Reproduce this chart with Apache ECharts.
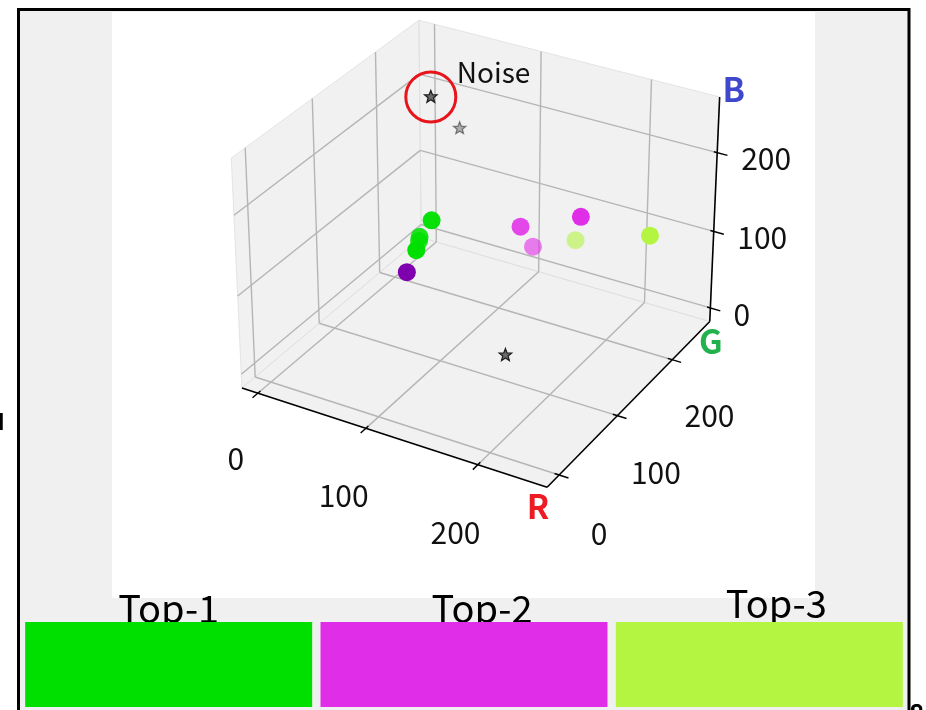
<!DOCTYPE html>
<html>
<head>
<meta charset="UTF-8">
<title>RGB 3D scatter</title>
<script src="https://cdn.jsdelivr.net/npm/echarts@6/dist/echarts.min.js"></script>
<style>
html, body { margin: 0; padding: 0; background: #fff; }
#main { width: 926px; height: 710px; }
</style>
</head>
<body>
<div id="main"></div>
<script>
// ---- data ----
var rgbTicks = [0, 100, 200];
var rRange = [-15, 260];
var gRange = [-20, 272];
var bRange = [-18, 269];
var axisNames = ['R', 'G', 'B'];

var topLabels = ['Top-1', 'Top-2', 'Top-3'];
var topColors = [[0, 224, 0], [224, 46, 232], [180, 245, 66]];

// points are [R, G, B]
var top1Points = [[0, 242, 3], [4, 230, 0], [0, 243, 8], [8, 250, 29]];
var top2Points = [[204, 40, 234], [244, 61, 248], [209, 51, 205]];
var top3Points = [[211, 255, 86], [143, 255, 53]];
var otherPoints = [[127, 1, 174]];
var noisePoints = [[10, 247, 194], [33, 255, 157], [155, 109, 7]];
var noiseText = 'Noise';

// ---- view (matplotlib-like 3d projection) ----
var ELEV = 30, AZIM = -60, DIST = 10;
var BOX = [4 / 3.5, 4 / 3.5, 3 / 3.5];
var VIEW = { cx: 480, cy: 243, k: 3060 };
var PLOT = { left: 112, top: 12, width: 703, height: 586 };
var FONT = "'Noto Sans CJK SC', 'Noto Sans', sans-serif";

function cross(a, b) {
    return [a[1] * b[2] - a[2] * b[1], a[2] * b[0] - a[0] * b[2], a[0] * b[1] - a[1] * b[0]];
}
function dot(a, b) { return a[0] * b[0] + a[1] * b[1] + a[2] * b[2]; }

var el = ELEV * Math.PI / 180, az = AZIM * Math.PI / 180;
var nVec = [Math.cos(az) * Math.cos(el), Math.sin(az) * Math.cos(el), Math.sin(el)];
var uVec = cross([0, 0, 1], nVec);
var uLen = Math.sqrt(dot(uVec, uVec));
uVec = [uVec[0] / uLen, uVec[1] / uLen, uVec[2] / uLen];
var vVec = cross(nVec, uVec);

// returns [x, y, depth] in projection units (depth: bigger = nearer)
function project(p) {
    var q = [
        (p[0] - rRange[0]) / (rRange[1] - rRange[0]) * BOX[0] - BOX[0] / 2,
        (p[1] - gRange[0]) / (gRange[1] - gRange[0]) * BOX[1] - BOX[1] / 2,
        (p[2] - bRange[0]) / (bRange[1] - bRange[0]) * BOX[2] - BOX[2] / 2
    ];
    var d = dot(nVec, q);
    var w = DIST - d;
    return [dot(uVec, q) / w, dot(vVec, q) / w, d];
}

var R0 = rRange[0], R1 = rRange[1], G0 = gRange[0], G1 = gRange[1], B0 = bRange[0], B1 = bRange[1];

// panes
var panes = [
    [[R0, G0, B0], [R1, G0, B0], [R1, G1, B0], [R0, G1, B0]],
    [[R0, G0, B0], [R0, G1, B0], [R0, G1, B1], [R0, G0, B1]],
    [[R0, G1, B0], [R1, G1, B0], [R1, G1, B1], [R0, G1, B1]]
];

// grid lines, ticks, axis lines
var segs = [];
function seg(p, q, kind) { segs.push({ p: p, q: q, kind: kind }); }
rgbTicks.forEach(function (t) {
    seg([t, G0, B0], [t, G1, B0], 'grid');
    seg([R0, t, B0], [R1, t, B0], 'grid');
    seg([R0, t, B0], [R0, t, B1], 'grid');
    seg([R0, G0, t], [R0, G1, t], 'grid');
    seg([t, G1, B0], [t, G1, B1], 'grid');
    seg([R0, G1, t], [R1, G1, t], 'grid');
});
seg([R0, G0, B0], [R1, G0, B0], 'axis');
seg([R1, G0, B0], [R1, G1, B0], 'axis');
seg([R1, G1, B0], [R1, G1, B1], 'axis');
rgbTicks.forEach(function (t) {
    seg([t, G0 + 4, B0], [t, G0 - 8, B0], 'tick');
    seg([R1 - 4, t, B0], [R1 + 8, t, B0], 'tick');
    seg([R1 - 3, G1, t], [R1 + 9, G1, t], 'tick');
});
var segStyle = {
    grid: { color: '#b5b5b5', width: 1.4 },
    axis: { color: '#000', width: 1.6 },
    tick: { color: '#000', width: 1.4 }
};

// tick labels
var tickLabels = [];
rgbTicks.forEach(function (t) {
    tickLabels.push({ p: [t, G0 - 36, B0 - 59], text: String(t), align: 'center' });
    tickLabels.push({ p: [R1 + 35, t, B0 - 58], text: String(t), align: 'center' });
    tickLabels.push({ p: [R1 + 21, G1, t], text: String(t), align: 'left' });
});

var nameStyle = [
    { p: [R1, G0, B0], dx: -9, dy: 19, color: '#ed1c24' },
    { p: [R1, G1, B0], dx: 1, dy: 20, color: '#22b14c' },
    { p: [R1, G1, B1], dx: 14, dy: -7, color: '#3f48cc' }
];

function rgb(c) { return 'rgb(' + c[0] + ',' + c[1] + ',' + c[2] + ')'; }

function lineItem(params, api) {
    var a = api.coord([api.value(0), api.value(1)]);
    var b = api.coord([api.value(2), api.value(3)]);
    var s = segStyle[segs[params.dataIndex].kind];
    return {
        type: 'line',
        shape: { x1: a[0], y1: a[1], x2: b[0], y2: b[1] },
        style: { stroke: s.color, lineWidth: s.width }
    };
}

function paneItem(params, api) {
    var pts = [];
    for (var i = 0; i < 4; i++) pts.push(api.coord([api.value(2 * i), api.value(2 * i + 1)]));
    return {
        type: 'polygon',
        shape: { points: pts },
        style: { fill: 'rgba(215,215,215,0.35)', stroke: 'rgba(225,225,225,0.9)', lineWidth: 1 }
    };
}

function dotSeries(points, color) {
    var proj = points.map(project);
    var dmax = Math.max.apply(null, proj.map(function (p) { return p[2]; }));
    return {
        type: 'custom',
        coordinateSystem: 'cartesian2d',
        silent: true,
        z: 5,
        data: proj,
        renderItem: function (params, api) {
            var c = api.coord([api.value(0), api.value(1)]);
            var alpha = Math.max(0.6, 1 - 4 * (dmax - api.value(2)));
            return {
                type: 'circle',
                shape: { cx: c[0], cy: c[1], r: 9 },
                style: { fill: rgb(color), opacity: alpha }
            };
        }
    };
}

function starPoints(cx, cy, R, r) {
    var pts = [];
    for (var i = 0; i < 10; i++) {
        var ang = -Math.PI / 2 + i * Math.PI / 5;
        var rad = i % 2 ? r : R;
        pts.push([cx + rad * Math.cos(ang), cy + rad * Math.sin(ang)]);
    }
    return pts;
}
var noiseOpacity = [1, 0.5, 1];

var series = [
    {
        type: 'custom', coordinateSystem: 'cartesian2d', silent: true, z: 1,
        data: panes.map(function (pn) {
            var out = [];
            pn.forEach(function (p) { var q = project(p); out.push(q[0], q[1]); });
            return out;
        }),
        renderItem: paneItem
    },
    {
        type: 'custom', coordinateSystem: 'cartesian2d', silent: true, z: 2,
        data: segs.map(function (s) {
            var a = project(s.p), b = project(s.q);
            return [a[0], a[1], b[0], b[1]];
        }),
        renderItem: lineItem
    },
    {
        type: 'custom', coordinateSystem: 'cartesian2d', silent: true, z: 3,
        data: tickLabels.map(function (l) { return project(l.p).slice(0, 2); }),
        renderItem: function (params, api) {
            var l = tickLabels[params.dataIndex];
            var c = api.coord([api.value(0), api.value(1)]);
            return {
                type: 'text',
                style: {
                    x: c[0], y: c[1], text: l.text, fill: '#111',
                    font: '30px ' + FONT, align: l.align, verticalAlign: 'middle'
                }
            };
        }
    },
    {
        type: 'custom', coordinateSystem: 'cartesian2d', silent: true, z: 3,
        data: nameStyle.map(function (n) { return project(n.p).slice(0, 2); }),
        renderItem: function (params, api) {
            var n = nameStyle[params.dataIndex];
            var c = api.coord([api.value(0), api.value(1)]);
            return {
                type: 'text',
                style: {
                    x: c[0] + n.dx, y: c[1] + n.dy, text: axisNames[params.dataIndex], fill: n.color,
                    font: 'bold 33px ' + FONT, align: 'center', verticalAlign: 'middle'
                }
            };
        }
    },
    dotSeries(otherPoints, otherPoints[0]),
    dotSeries(top1Points, topColors[0]),
    dotSeries(top2Points, topColors[1]),
    dotSeries(top3Points, topColors[2]),
    {
        type: 'custom', coordinateSystem: 'cartesian2d', silent: true, z: 6,
        data: noisePoints.map(function (p) { return project(p).slice(0, 2); }),
        renderItem: function (params, api) {
            var c = api.coord([api.value(0), api.value(1)]);
            return {
                type: 'polygon',
                shape: { points: starPoints(c[0], c[1], 6.5, 2.8) },
                style: { fill: '#6a6a6a', stroke: '#1e1e1e', lineWidth: 1.3, opacity: noiseOpacity[params.dataIndex] }
            };
        }
    },
    {
        type: 'custom', coordinateSystem: 'cartesian2d', silent: true, z: 7,
        data: [project(noisePoints[0]).slice(0, 2)],
        renderItem: function (params, api) {
            var c = api.coord([api.value(0), api.value(1)]);
            return {
                type: 'group',
                children: [
                    { type: 'circle', shape: { cx: c[0], cy: c[1], r: 25 },
                      style: { fill: 'none', stroke: '#e8141c', lineWidth: 3 } },
                    { type: 'text', style: { x: c[0] + 26, y: c[1] - 25, text: noiseText, fill: '#111',
                      font: '28px ' + FONT, align: 'left', verticalAlign: 'middle' } }
                ]
            };
        }
    },
    {
        type: 'bar', xAxisIndex: 1, yAxisIndex: 1, silent: true,
        barWidth: 287,
        data: topColors.map(function (c) { return { value: 1, itemStyle: { color: rgb(c) } }; })
    }
];

var chart = echarts.init(document.getElementById('main'));
chart.setOption({
    backgroundColor: '#fff',
    animation: false,
    graphic: [
        { type: 'rect', z: -10, shape: { x: 19, y: 10, width: 889, height: 700 }, style: { fill: '#f0f0f0' } },
        { type: 'rect', z: 100, shape: { x: 18.5, y: 9.5, width: 890.5, height: 720 },
          style: { fill: 'none', stroke: '#000', lineWidth: 3 } },
        { type: 'text', z: 100, style: { x: 5, y: 434, text: 'u', font: 'bold 30px ' + FONT, fill: '#000',
          align: 'right', verticalAlign: 'bottom' } },
        { type: 'text', z: 100, style: { x: 909, y: 700, text: '8', font: 'bold 26px ' + FONT, fill: '#000',
          align: 'left', verticalAlign: 'top' } }
    ],
    grid: [
        { left: PLOT.left, top: PLOT.top, width: PLOT.width, height: PLOT.height,
          show: true, backgroundColor: '#fff', borderWidth: 0 },
        { left: 21, top: 622, width: 886, height: 85 }
    ],
    xAxis: [
        { type: 'value', gridIndex: 0, show: false,
          min: (PLOT.left - VIEW.cx) / VIEW.k, max: (PLOT.left + PLOT.width - VIEW.cx) / VIEW.k },
        { type: 'category', gridIndex: 1, data: topLabels, position: 'top',
          axisLine: { show: false }, axisTick: { show: false },
          axisLabel: {
              color: '#000', margin: -6,
              formatter: function (v, i) { return '{l' + i + '|' + v + '}'; },
              rich: {
                  l0: { fontSize: 38, fontFamily: FONT, padding: [0, 0, 0, 0] },
                  l1: { fontSize: 38, fontFamily: FONT, padding: [0, 0, 0, 36] },
                  l2: { fontSize: 38, fontFamily: FONT, padding: [0, 0, 5, 34] }
              }
          } }
    ],
    yAxis: [
        { type: 'value', gridIndex: 0, show: false,
          min: (VIEW.cy - PLOT.top - PLOT.height) / VIEW.k, max: (VIEW.cy - PLOT.top) / VIEW.k },
        { type: 'value', gridIndex: 1, show: false, min: 0, max: 1 }
    ],
    series: series
});
</script>
</body>
</html>
